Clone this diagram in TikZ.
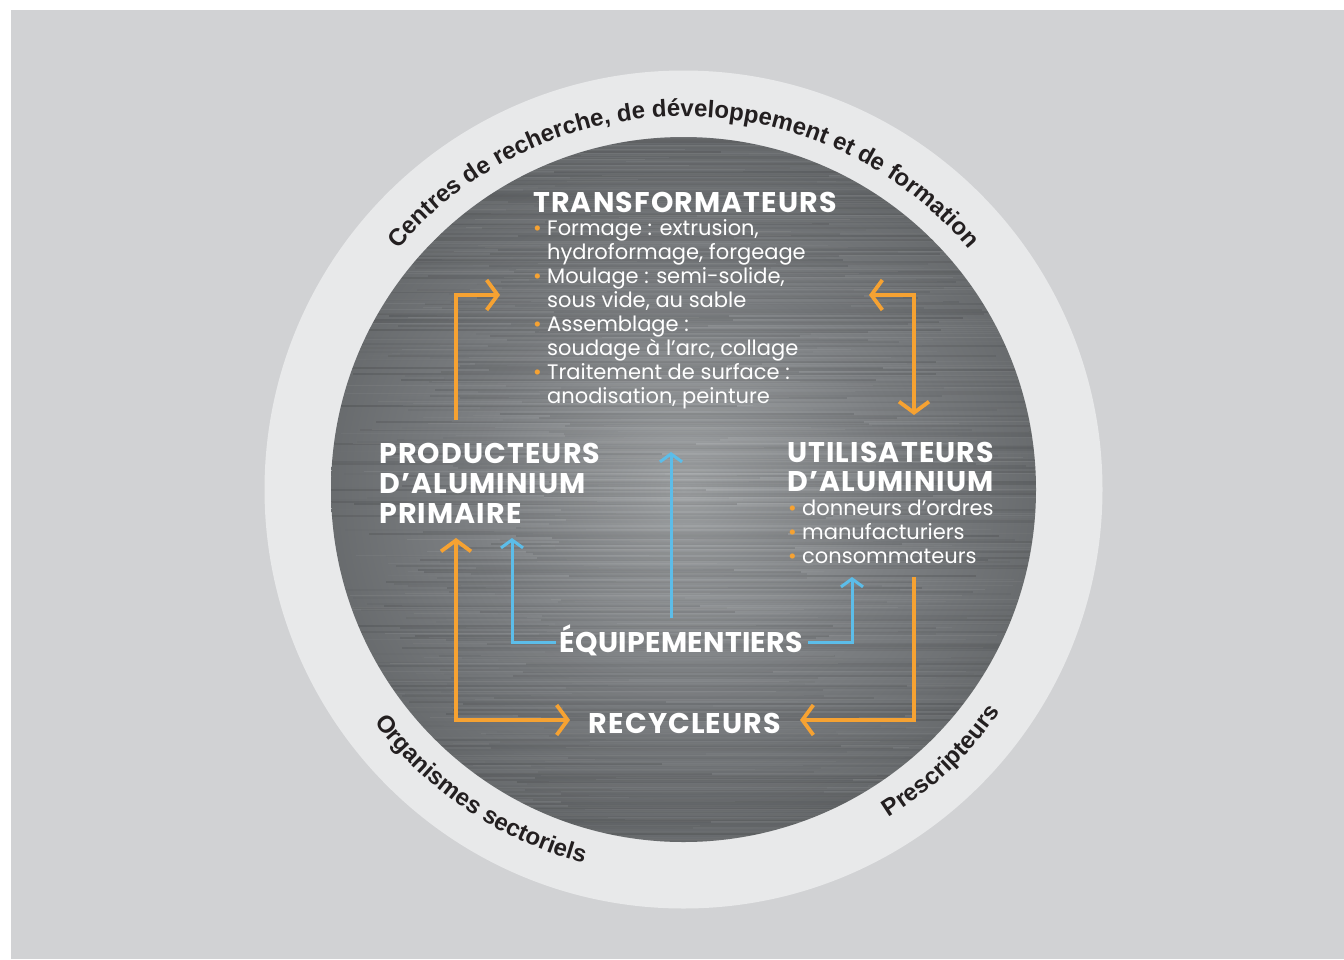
\documentclass[tikz,border=0pt]{standalone}
\usepackage{fontspec}
\setmainfont{Poppins}
\newfontfamily\headfont[LetterSpace=4]{Poppins}
\newfontfamily\headfonttight[LetterSpace=1]{Poppins}
\newfontfamily\ringfont{Liberation Sans}
\usetikzlibrary{arrows.meta,decorations.text}

\definecolor{pagebg}{HTML}{D1D2D4}
\definecolor{ringfill}{HTML}{E8E9EA}
\definecolor{ringtext}{HTML}{231F20}
\definecolor{orangeline}{HTML}{F6A232}
\definecolor{blueline}{HTML}{5CBDE9}
\definecolor{discin}{HTML}{A6A9AB}
\definecolor{discmid}{HTML}{7D8083}
\definecolor{discdark}{HTML}{56595B}
\definecolor{discedge}{HTML}{404345}

\pgfdeclareradialshading{metaldisc}{\pgfpoint{0bp}{0bp}}{%
  color(0bp)=(discin); color(15bp)=(discmid); color(34bp)=(discdark);
  color(50bp)=(discedge); color(100bp)=(discedge)}

\newcommand{\obul}{\makebox[14pt][l]{\textcolor{orangeline}{\textbullet}}}
\newcommand{\oind}{\hspace*{14pt}}

\tikzset{
  headtext/.style={font=\headfont\bfseries\fontsize{28.5}{30}\selectfont, text=white,
    align=left, inner sep=0pt},
  bodytext/.style={font=\fontsize{21}{24}\selectfont, text=white,
    align=left, inner sep=0pt},
  oarrow/.style={draw=orangeline, line width=3.8pt, line cap=butt,
    -{Straight Barb[length=11pt,width=30pt,line width=3.8pt]}},
  oboth/.style={oarrow, {Straight Barb[length=11pt,width=30pt,line width=3.8pt]}-{Straight Barb[length=11pt,width=30pt,line width=3.8pt]}},
  barrow/.style={draw=blueline, line width=3pt,
    -{Straight Barb[length=8pt,width=22pt,line width=3pt]}},
  ringlabel/.style={decorate, decoration={text along path, text align=center,
    text={|\ringfont\bfseries\fontsize{24}{24}\selectfont\color{ringtext}|#1}}}
}

\begin{document}
\begin{tikzpicture}[x=1pt,y=1pt]
\useasboundingbox (0,0) rectangle (1344,-959);
\fill[white] (0,0) rectangle (1344,-959);
\fill[pagebg] (11,-10) rectangle (1344,-959);

\coordinate (C) at (683.5,-489.5);

% outer light ring
\fill[ringfill] (C) circle[radius=419];

% brushed metal disc
\shade[shading=metaldisc] (C) circle[radius=352.5];
\begin{scope}
  \clip (C) circle[radius=352.5];
  \pgfmathsetseed{17}
  \foreach \k in {0,...,355}{
    \pgfmathsetmacro{\yy}{-136-2*\k}
    \pgfmathsetmacro{\oa}{0.12*rnd}
    \pgfmathsetmacro{\xa}{320+250*rnd}
    \pgfmathsetmacro{\xb}{\xa+250+450*rnd}
    \draw[line width=1.3pt, black, opacity=\oa] (\xa,\yy) -- (\xb,\yy);
    \pgfmathsetmacro{\ob}{0.07*rnd}
    \pgfmathsetmacro{\xc}{330+300*rnd}
    \pgfmathsetmacro{\xd}{\xc+200+450*rnd}
    \draw[line width=1pt, white, opacity=\ob] (\xc,\yy-1) -- (\xd,\yy-1);
  }
\end{scope}

% texts around the ring
\path[ringlabel={Centres de recherche, de développement et de formation}]
  (C) ++(150:373) arc[start angle=150, end angle=30, radius=373];
\path[ringlabel={Organismes sectoriels}]
  (C) ++(206:387) arc[start angle=206, end angle=266, radius=387];
\path[ringlabel={Prescripteurs}]
  (C) ++(288:387) arc[start angle=288, end angle=339, radius=387];

% actors (base anchor = baseline of the last line)
\node[headtext, anchor=base west] (transf) at (533,-212) {TRANSFORMATEURS};
\node[bodytext, anchor=base west] (transflist) at (533,-403) {%
  \obul Formage : extrusion,\\
  \oind hydroformage, forgeage\\
  \obul Moulage : semi-solide,\\
  \oind sous vide, au sable\\
  \obul Assemblage :\\
  \oind soudage à l’arc, collage\\
  \obul Traitement de surface :\\
  \oind anodisation, peinture};

\node[headtext, anchor=base west] (prod) at (379,-523) {PRODUCTEURS\\D’ALUMINIUM\\PRIMAIRE};

\node[headtext, font=\headfont\bfseries\fontsize{28.5}{29}\selectfont,
  anchor=base west] (util) at (787,-491) {UTILISATEURS\\D’ALUMINIUM};
\node[bodytext, anchor=base west] (utillist) at (788,-563) {%
  \obul donneurs d’ordres\\
  \obul manufacturiers\\
  \obul consommateurs};

\node[headtext, font=\headfonttight\bfseries\fontsize{28.5}{30}\selectfont,
  anchor=base] (equip) at (681.5,-652) {ÉQUIPEMENTIERS};
\node[headtext, anchor=base] (recyc) at (685,-733) {RECYCLEURS};

% connector ends
\coordinate (prodUp) at (456,-420);
\coordinate (transLeft) at (500,-295);
\coordinate (transRight) at (869,-295);
\coordinate (utilUp) at (914,-415);
\coordinate (prodDown) at (456,-538);
\coordinate (recycLeft) at (570,-720);
\coordinate (utilDown) at (914,-577);
\coordinate (recycRight) at (800,-720);
\coordinate (equipUp) at (671,-618);
\coordinate (transDown) at (671,-452);
\coordinate (equipLeft) at (556,-642);
\coordinate (prodBlue) at (512,-538);
\coordinate (equipRight) at (808,-642);
\coordinate (utilBlue) at (852,-577);

% material flow
\draw[oarrow] (prodUp) |- (transLeft);
\draw[oboth] (transRight) -| (utilUp);
\draw[oboth] (prodDown) |- (recycLeft);
\draw[oarrow] (utilDown) |- (recycRight);

% equipment supply
\draw[barrow] (equipUp) -- (transDown);
\draw[barrow] (equipLeft) -| (prodBlue);
\draw[barrow] (equipRight) -| (utilBlue);
\end{tikzpicture}
\end{document}
